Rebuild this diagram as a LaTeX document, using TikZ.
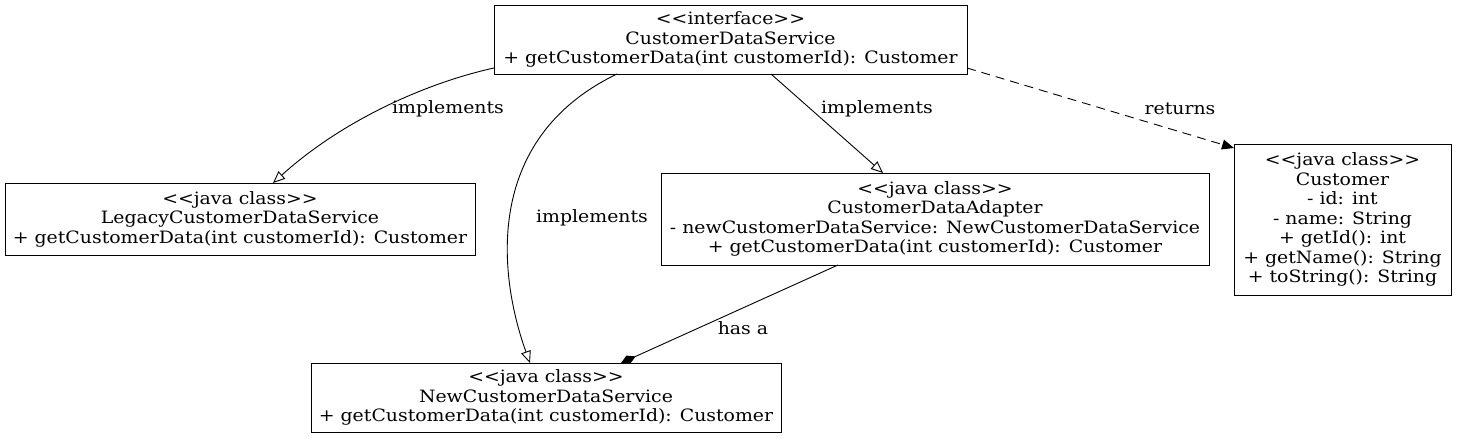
\documentclass[tikz,border=0pt]{standalone}
\usepackage{fontspec}
\setmainfont{DejaVu Serif}[Ligatures=TeXOff, FakeStretch=1.11]
\usetikzlibrary{arrows.meta}
\begin{document}
\begin{tikzpicture}[x=1pt,y=-1pt,
  cls/.style={draw, line width=0.9pt, align=center, inner sep=0pt, font=\fontsize{17}{19.5}\selectfont},
  lbl/.style={font=\fontsize{17}{19.5}\selectfont, inner sep=0pt},
  rel/.style={line width=0.9pt},
  impl/.style={rel, -{Triangle[open, length=12pt, width=10pt]}},
  ret/.style={rel, dashed, dash pattern=on 9pt off 6pt, -{Triangle[length=12pt, width=10pt]}},
  comp/.style={rel, -{Diamond[length=16pt, width=9pt]}}
]
\useasboundingbox (0,0) rectangle (1457,439);
\node[cls, minimum width=473pt, minimum height=69pt] (iface) at (730.5,39.5)
  {<<interface>>\\CustomerDataService\\+ getCustomerData(int customerId): Customer};
\node[cls, minimum width=470pt, minimum height=72pt] (legacy) at (240,219)
  {<<java class>>\\LegacyCustomerDataService\\+ getCustomerData(int customerId): Customer};
\node[cls, minimum width=548pt, minimum height=92pt] (adapter) at (935,219)
  {<<java class>>\\CustomerDataAdapter\\- newCustomerDataService: NewCustomerDataService\\+ getCustomerData(int customerId): Customer};
\node[cls, minimum width=217pt, minimum height=151pt] (cust) at (1342.5,219.5)
  {<<java class>>\\Customer\\- id: int\\- name: String\\+ getId(): int\\+ getName(): String\\+ toString(): String};
\node[cls, minimum width=470pt, minimum height=69pt] (new) at (546,397.5)
  {<<java class>>\\NewCustomerDataService\\+ getCustomerData(int customerId): Customer};

\coordinate (a1) at (494,68);
\coordinate (a2) at (273,183);
\draw[impl] (a1) .. controls (430,82) and (345,118) .. (a2);
\node[lbl] (l1) at (448,109) {implements};

\coordinate (b1) at (617,74);
\coordinate (b2) at (530,363);
\draw[impl] (b1) .. controls (480,140) and (500,280) .. (b2);
\node[lbl] (l2) at (592,218) {implements};

\coordinate (c1) at (771,74);
\coordinate (c2) at (883,173);
\draw[impl] (c1) -- (c2);
\node[lbl] (l3) at (877,109) {implements};

\coordinate (d1) at (967,68);
\coordinate (d2) at (1234,148);
\draw[ret] (d1) -- (d2);
\node[lbl] (l4) at (1180,109) {returns};

\coordinate (e1) at (838,265);
\coordinate (e2) at (621,363);
\draw[comp] (e1) -- (e2);
\node[lbl] (l5) at (743,328) {has a};
\end{tikzpicture}
\end{document}
